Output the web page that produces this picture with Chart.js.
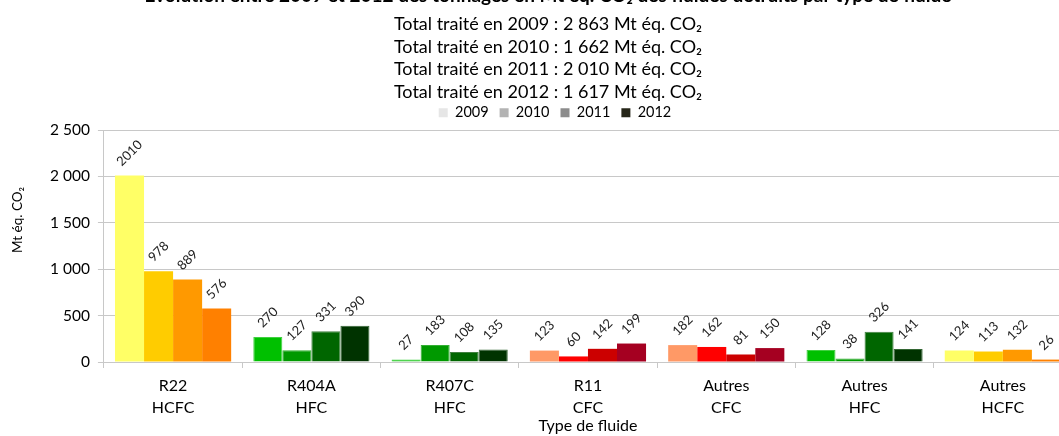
<!DOCTYPE html>
<html>
<head>
<meta charset="utf-8">
<script src="https://cdn.jsdelivr.net/npm/chart.js@4"></script>
<style>
  html, body { margin: 0; padding: 0; background: #fff; overflow: hidden; }
  #wrap { position: absolute; left: 0; top: 0; width: 1096px; height: 436px; }
</style>
</head>
<body>
<div id="wrap"><canvas id="myChart" width="1096" height="436"></canvas></div>
<script>
const categories = [['R22', 'HCFC'], ['R404A', 'HFC'], ['R407C', 'HFC'], ['R11', 'CFC'], ['Autres', 'CFC'], ['Autres', 'HFC'], ['Autres', 'HCFC']];
const years = ['2009', '2010', '2011', '2012'];
const values2009 = [2010, 270, 27, 123, 182, 128, 124];
const values2010 = [978, 127, 183, 60, 162, 38, 113];
const values2011 = [889, 331, 108, 142, 81, 326, 132];
const values2012 = [576, 390, 135, 199, 150, 141, 26];
const yTicks = [0, 500, 1000, 1500, 2000, 2500];
const titleText = 'Évolution entre 2009 et 2012 des tonnages en Mt éq. CO₂ des fluides détruits par type de fluide';
const subtitleLines = [
  'Total traité en 2009 : 2 863 Mt éq. CO₂',
  'Total traité en 2010 : 1 662 Mt éq. CO₂',
  'Total traité en 2011 : 2 010 Mt éq. CO₂',
  'Total traité en 2012 : 1 617 Mt éq. CO₂'
];
const yTitle = 'Mt éq. CO₂';
const xTitle = 'Type de fluide';

// palette per family of fluid, one colour per year
const hcfcColors = ['#ffff66', '#ffcc00', '#ff9900', '#ff8000'];
const hfcColors = ['#00c000', '#009900', '#006600', '#003300'];
const cfcColors = ['#ff9966', '#ff0000', '#cc0000', '#a50021'];
const hfcBorders = ['#40d040', '#33b033', '#408040', '#336633'];
const familyOf = ['hcfc', 'hfc', 'hfc', 'cfc', 'cfc', 'hfc', 'hcfc'];
const legendColors = ['#e6e6e6', '#b3b3b3', '#8c8c8c', '#262618'];

function colorFor(fam, i) {
  if (fam === 'hcfc') return hcfcColors[i];
  if (fam === 'hfc') return hfcColors[i];
  return cfcColors[i];
}

const allValues = [values2009, values2010, values2011, values2012];
const datasets = allValues.map((vals, i) => ({
  label: years[i],
  data: vals,
  backgroundColor: familyOf.map(f => colorFor(f, i)),
  borderColor: familyOf.map(f => f === 'hfc' ? hfcBorders[i] : colorFor(f, i)),
  borderWidth: familyOf.map(f => f === 'hfc' ? 1 : 0),
  categoryPercentage: 0.84,
  barPercentage: 1.0
}));

function fmt(v) {
  return String(v).replace(/\B(?=(\d{3})+(?!\d))/g, ' ');
}

const FONT = 'Lato, "Open Sans", sans-serif';
const CENTER_X = 548;

// titles drawn by hand: the first line is partly cut off at the top in the original
const titles = {
  id: 'titles',
  afterDraw(chart) {
    const ctx = chart.ctx;
    const area = chart.chartArea;
    ctx.save();
    ctx.fillStyle = '#000';
    ctx.textAlign = 'center';
    ctx.font = 'bold 19px ' + FONT;
    ctx.textBaseline = 'alphabetic';
    ctx.fillText(titleText, CENTER_X, 2);
    ctx.font = '18px ' + FONT;
    ctx.textBaseline = 'middle';
    subtitleLines.forEach((t, i) => ctx.fillText(t, CENTER_X, 24 + i * 22.7));
    // x axis title
    ctx.font = '16px ' + FONT;
    ctx.fillText(xTitle, (area.left + area.right) / 2, 426);
    // y axis title
    ctx.font = '13.5px ' + FONT;
    ctx.translate(18, 220);
    ctx.rotate(-Math.PI / 2);
    ctx.fillText(yTitle, 0, 0);
    ctx.restore();
  }
};

const barLabels = {
  id: 'barLabels',
  afterDatasetsDraw(chart) {
    const ctx = chart.ctx;
    ctx.save();
    ctx.font = '13px ' + FONT;
    ctx.fillStyle = '#222';
    ctx.textAlign = 'center';
    ctx.textBaseline = 'middle';
    chart.data.datasets.forEach((ds, di) => {
      chart.getDatasetMeta(di).data.forEach((bar, j) => {
        const txt = String(ds.data[j]);
        const w = ctx.measureText(txt).width;
        const off = 0.354 * (w + 13) + 7;
        ctx.save();
        ctx.translate(bar.x, bar.y - off);
        ctx.rotate(-Math.PI / 4);
        ctx.fillText(txt, 0, 0);
        ctx.restore();
      });
    });
    ctx.restore();
  }
};

// shift legend so it is centred like the titles
const legendShift = {
  id: 'legendShift',
  afterLayout(chart) {
    const lg = chart.legend;
    if (!lg) return;
    const mid = (lg.left + lg.right) / 2;
    const dx = CENTER_X + 7 - mid;
    lg.left += dx;
    lg.right += dx;
  }
};

const chartCanvas = document.getElementById('myChart');
const myChart = new Chart(chartCanvas.getContext('2d'), {
  type: 'bar',
  data: { labels: categories, datasets: datasets },
  plugins: [barLabels, titles, legendShift],
  options: {
    responsive: false,
    animation: false,
    devicePixelRatio: 1,
    layout: { padding: { left: 42, right: 24, top: 94.5, bottom: 10 } },
    plugins: {
      title: { display: false },
      subtitle: { display: false },
      legend: {
        display: true,
        labels: {
          boxWidth: 9,
          boxHeight: 9,
          padding: 11,
          color: '#000',
          font: { family: FONT, size: 14.5 },
          generateLabels: () => years.map((y, i) => ({
            text: y,
            fillStyle: legendColors[i],
            strokeStyle: legendColors[i],
            lineWidth: 0,
            datasetIndex: i
          }))
        }
      },
      tooltip: { enabled: false }
    },
    scales: {
      x: {
        grid: { display: true, offset: true, drawOnChartArea: false, tickLength: 6, color: '#c8c8c8' },
        border: { color: '#c8c8c8' },
        ticks: { color: '#000', font: { family: FONT, size: 16, lineHeight: 1.375 }, padding: 7 }
      },
      y: {
        min: 0,
        max: 2500,
        afterBuildTicks: axis => { axis.ticks = yTicks.map(v => ({ value: v })); },
        grid: { color: '#c8c8c8', tickLength: 6 },
        border: { color: '#c8c8c8' },
        ticks: { color: '#000', font: { family: FONT, size: 15.5 }, padding: 8, callback: v => fmt(v) }
      }
    }
  }
});
</script>
</body>
</html>
